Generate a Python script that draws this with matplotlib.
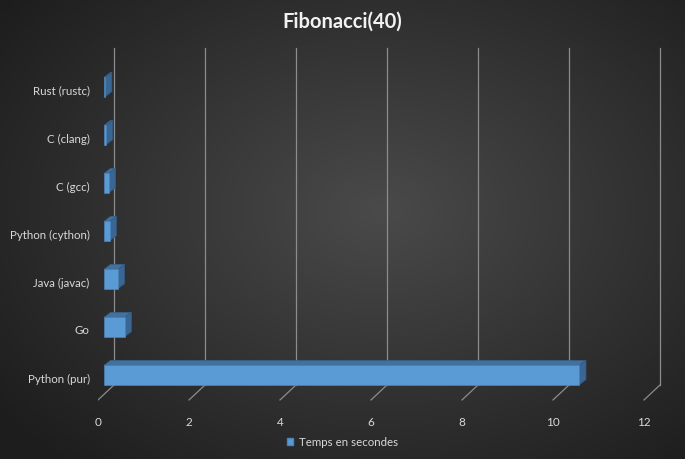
import numpy as np
import matplotlib.pyplot as plt
import matplotlib.transforms as mtransforms
from matplotlib.patches import Polygon, Rectangle, Patch

categories = ["Python (pur)", "Go", "Java (javac)", "Python (cython)", "C (gcc)", "C (clang)", "Rust (rustc)"]
temps = [10.45, 0.46, 0.31, 0.13, 0.11, 0.05, 0.03]
xticks = [0, 2, 4, 6, 8, 10, 12]

W, H = 685, 459
fig = plt.figure(figsize=(W / 100, H / 100), dpi=100)

# radial gradient background
bg = fig.add_axes([0, 0, 1, 1], zorder=-1)
yy, xx = np.mgrid[0:H, 0:W]
r = np.sqrt(((xx - 380) / 470.0) ** 2 + ((yy - 210) / 330.0) ** 2)
r = np.clip(r, 0, 1)
c_in = np.array([0x4a, 0x4a, 0x4a]) / 255
c_out = np.array([0x1e, 0x1e, 0x1e]) / 255
img = c_in + (c_out - c_in) * r[..., None]
bg.imshow(img, aspect="auto", extent=[0, 1, 0, 1])
bg.axis("off")

# main axes placed in pixels
L, R, T, B = 98, 98 + 12.6 * 45.5, 375 - 6.9 * 48, 375 + 0.55 * 48
ax = fig.add_axes([L / W, 1 - B / H, (R - L) / W, (B - T) / H])
ax.set_facecolor("none")
ax.set_xlim(0, 12.6)
ax.set_ylim(-0.55, 6.9)
for s in ax.spines.values():
    s.set_visible(False)

px_x = 1 / 45.5
px_y = 1 / 48.0
grid_c = "#8c8c8c"

# floor diagonals + back wall gridlines
y_floor = -0.52
for k in xticks:
    xb = k + 16 * px_x
    yb = y_floor + 15 * px_y
    ax.plot([k, xb], [y_floor, yb], color=grid_c, lw=0.9, zorder=1)
    ax.plot([xb, xb], [yb, (375 - 48) * px_y], color=grid_c, lw=0.9, zorder=1)

# 3d-ish bars
h = 0.4
x0 = 6 * px_x
ddx = 6.5 * px_x
ddy = 5 * px_y
for i, v in enumerate(temps):
    y0, y1 = i - h / 2, i + h / 2
    top = Polygon([(x0, y1), (x0 + v, y1), (x0 + v + ddx, y1 + ddy), (x0 + ddx, y1 + ddy)],
                  closed=True, facecolor="#41719c", edgecolor="#35608a", lw=0.5, zorder=3)
    side = Polygon([(x0 + v, y0), (x0 + v + ddx, y0 + ddy), (x0 + v + ddx, y1 + ddy), (x0 + v, y1)],
                   closed=True, facecolor="#3a6693", edgecolor="#335a82", lw=0.5, zorder=3)
    front = Rectangle((x0, y0), v, h, facecolor="#5b9bd5", edgecolor="#4a84bb", lw=0.5, zorder=4)
    ax.add_patch(top)
    ax.add_patch(side)
    ax.add_patch(front)

ax.set_xticks(xticks)
ax.set_xticklabels([str(k) for k in xticks])
ax.set_yticks(range(len(categories)))
ax.set_yticklabels(categories)
ax.tick_params(axis="x", length=0, pad=11, labelsize=8.5, labelcolor="#d9d9d9")
ax.tick_params(axis="y", length=0, pad=6, labelsize=8.3, labelcolor="#d9d9d9")
for lab in ax.get_xticklabels() + ax.get_yticklabels():
    lab.set_fontfamily("Lato")
shift = mtransforms.ScaledTranslation(0, -3 / 100, fig.dpi_scale_trans)
for lab in ax.get_yticklabels():
    lab.set_transform(lab.get_transform() + shift)

fig.text(0.5, 1 - 22 / H, "Fibonacci(40)", ha="center", va="center",
         fontsize=14.5, color="#f2f2f2", fontfamily="Lato", fontweight="bold")

fig.legend(handles=[Patch(facecolor="#5b9bd5", edgecolor="#4a84bb", label="Temps en secondes")],
           loc="center", bbox_to_anchor=(0.5, 1 - 442 / H), frameon=False,
           handlelength=0.55, handleheight=0.55, handletextpad=0.5,
           prop={"family": "Lato", "size": 8.3}, labelcolor="#d9d9d9")

fig.savefig("out.png", dpi=100)
